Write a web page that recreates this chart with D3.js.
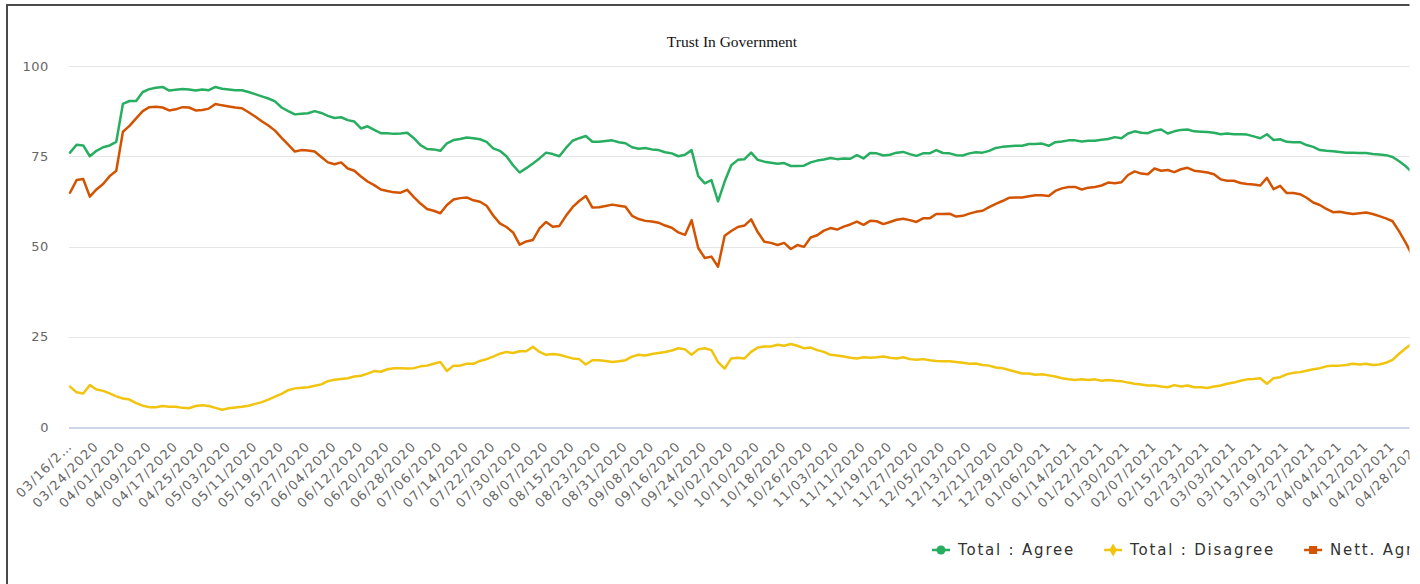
<!DOCTYPE html>
<html>
<head>
<meta charset="utf-8">
<script src="https://cdn.jsdelivr.net/npm/d3@7/dist/d3.min.js"></script>
<style>
  body { margin: 0; background: #fff; }
  .chart svg { display: block; }
  .grid line { stroke: #e6e6e6; stroke-width: 1; }
  .axis-x line.base { stroke: #ccd6eb; stroke-width: 2; }
  .label { font-family: "DejaVu Sans", sans-serif; fill: #666; }
  .line { fill: none; stroke-width: 2.5; stroke-linejoin: round; stroke-linecap: round; }
</style>
</head>
<body>
<div class="chart"></div>
<script>
(function() {
  // daily tracking, one value every 2 days from 03/16/2020
  var startDate = new Date(Date.UTC(2020, 2, 16));
  var stepDays = 2;
  var lastTickDay = 408;

  var seriesNames = ["Total : Agree", "Total : Disagree", "Nett. Agree"];
  var seriesColors = ["#27ae60", "#f1c40f", "#d35400"];

  var agree = [
    76, 78.2, 78, 75, 76.5, 77.5, 78, 79,
    89.5, 90.3, 90.3, 92.8, 93.6, 94, 94.2, 93.2,
    93.4, 93.6, 93.5, 93.2, 93.5, 93.3, 94.2, 93.7,
    93.5, 93.3, 93.3, 92.8, 92.2, 91.6, 91, 90.2,
    88.5, 87.5, 86.6, 86.8, 86.9, 87.5, 87, 86.2,
    85.6, 85.8, 85, 84.6, 82.7, 83.3, 82.3, 81.4,
    81.4, 81.2, 81.3, 81.5, 80, 78.1, 77, 76.9,
    76.5, 78.6, 79.5, 79.8, 80.2, 80, 79.7, 79,
    77.2, 76.5, 75, 72.5, 70.5, 71.7, 73, 74.4,
    76, 75.6, 75, 77.3, 79.3, 80, 80.6, 79,
    79, 79.2, 79.4, 78.9, 78.6, 77.5, 77.1, 77.3,
    76.9, 76.7, 76.1, 75.8, 75, 75.4, 76.7, 69.5,
    67.5, 68.4, 62.5, 68, 72.5, 74, 74.2, 76,
    74, 73.5, 73.2, 72.9, 73.1, 72.3, 72.3, 72.4,
    73.3, 73.8, 74.1, 74.5, 74.2, 74.4, 74.3, 75.3,
    74.4, 75.9, 75.8, 75.2, 75.4, 76, 76.2, 75.6,
    75.1, 75.8, 75.8, 76.7, 75.9, 75.8, 75.3, 75.2,
    75.8, 76.1, 76, 76.5, 77.3, 77.6, 77.8, 77.9,
    77.9, 78.4, 78.4, 78.5, 77.9, 78.9, 79.1, 79.4,
    79.4, 79.1, 79.3, 79.3, 79.6, 79.8, 80.3, 80,
    81.3, 81.9, 81.5, 81.4, 82.1, 82.4, 81.3, 81.9,
    82.3, 82.4, 81.9, 81.8, 81.7, 81.5, 81.1, 81.3,
    81.1, 81.1, 81, 80.5, 80, 81.1, 79.5, 79.7,
    79, 78.9, 78.9, 78.1, 77.6, 76.7, 76.5, 76.4,
    76.2, 76, 76, 75.9, 75.9, 75.6, 75.5, 75.3,
    74.8, 73.6, 72.2, 70.5
  ];

  var disagree = [
    11.2, 9.6, 9.3, 11.6, 10.4, 10, 9.3, 8.5,
    7.9, 7.6, 6.6, 5.9, 5.5, 5.5, 5.8, 5.6,
    5.6, 5.3, 5.2, 5.8, 6, 5.8, 5.3, 4.8,
    5.2, 5.4, 5.6, 5.9, 6.4, 6.9, 7.6, 8.4,
    9.2, 10.2, 10.7, 10.9, 11, 11.4, 11.8, 12.7,
    13.1, 13.3, 13.5, 14, 14.2, 14.8, 15.5, 15.3,
    16, 16.3, 16.3, 16.2, 16.3, 16.8, 17, 17.5,
    18, 15.5, 17, 17, 17.5, 17.5, 18.3, 18.8,
    19.5, 20.3, 20.8, 20.5, 21, 21, 22.2, 20.8,
    20, 20.2, 20, 19.5, 19, 18.8, 17.3, 18.5,
    18.5, 18.3, 18, 18.2, 18.5, 19.5, 20, 19.8,
    20.2, 20.5, 20.8, 21.2, 21.8, 21.5, 20, 21.5,
    21.8, 21.3, 18, 16.2, 19, 19.2, 19, 20.8,
    22, 22.3, 22.3, 22.8, 22.5, 23, 22.5, 21.8,
    22, 21.3, 20.8, 20, 19.8, 19.5, 19.2, 19,
    19.3, 19.2, 19.3, 19.5, 19.2, 19, 19.3, 18.8,
    18.6, 18.8, 18.5, 18.3, 18.2, 18.2, 18, 17.8,
    17.5, 17.6, 17.2, 17, 16.5, 16.3, 15.8, 15.3,
    14.8, 14.8, 14.5, 14.6, 14.3, 14, 13.5, 13.2,
    13, 13.2, 13, 13.2, 12.8, 13, 12.8, 12.7,
    12.3, 12, 11.8, 11.5, 11.5, 11.2, 11, 11.6,
    11.2, 11.5, 11, 11, 10.8, 11.2, 11.5, 12,
    12.3, 12.8, 13.2, 13.3, 13.5, 12, 13.5, 13.8,
    14.6, 15, 15.2, 15.6, 16, 16.3, 16.8, 17,
    17, 17.2, 17.5, 17.3, 17.5, 17.2, 17.3, 17.8,
    18.6, 20.3, 21.8, 23.2
  ];

  var nettAgree = [
    64.9, 68.4, 68.7, 63.8, 65.8, 67.3, 69.5, 71,
    81.8, 83.4, 85.5, 87.5, 88.6, 88.7, 88.5, 87.7,
    88, 88.6, 88.5, 87.7, 87.8, 88.2, 89.5, 89.1,
    88.8, 88.5, 88.3, 87.2, 86, 84.7, 83.5, 82.1,
    80.1, 78.2, 76.3, 76.7, 76.6, 76.3, 74.8, 73.3,
    72.8, 73.3, 71.6, 71, 69.4, 68, 67, 65.8,
    65.4, 65, 64.9, 65.7, 63.7, 61.9, 60.4, 59.9,
    59.2, 61.5, 63, 63.4, 63.6, 62.8, 62.4, 61.3,
    58.6, 56.4, 55.4, 53.9, 50.5, 51.4, 51.8, 55,
    56.8, 55.5, 55.7, 58.5, 60.9, 62.6, 64, 60.8,
    60.9, 61.2, 61.6, 61.3, 61, 58.5, 57.6, 57.1,
    56.9, 56.6, 55.8, 55.2, 53.9, 53.2, 57.3, 49.6,
    46.8, 47.2, 44.4, 53, 54.3, 55.4, 55.8, 57.5,
    54, 51.3, 51, 50.4, 51, 49.3, 50.4, 49.9,
    52.5, 53.1, 54.4, 55.1, 54.7, 55.5, 56.1, 56.9,
    56, 57.1, 57, 56.2, 56.8, 57.4, 57.7, 57.3,
    56.8, 57.8, 57.8, 59, 59, 59.1, 58.3, 58.5,
    59.1, 59.6, 59.9, 60.9, 61.8, 62.6, 63.5, 63.6,
    63.6, 63.9, 64.2, 64.2, 64, 65.4, 66.1, 66.5,
    66.5, 65.8, 66.3, 66.5, 66.9, 67.7, 67.5, 67.8,
    69.8, 70.8, 70.2, 70, 71.6, 71, 71.2, 70.6,
    71.4, 71.8, 71, 70.8, 70.5, 70, 68.6, 68.2,
    68.2, 67.6, 67.3, 67.2, 66.9, 69, 65.9, 66.8,
    64.8, 64.8, 64.5, 63.5, 62.2, 61.5, 60.4, 59.5,
    59.6, 59.3, 59, 59.2, 59.4, 59, 58.4, 57.8,
    57, 54.2, 51, 47.5
  ];

  var yTicks = [0, 25, 50, 75, 100];
  var tickEveryDays = 8;

  var width = 1420,
    height = 584,
    plot = { left: 70, right: 1419, top: 66, bottom: 427 },
    cropX = 1409.5;

  var fmt = d3.utcFormat("%m/%d/%Y");
  var dates = agree.map(function(d, i) { return d3.utcDay.offset(startDate, i * stepDays); });
  var tickDates = d3.range(0, lastTickDay + 1, tickEveryDays).map(function(k) { return d3.utcDay.offset(startDate, k); });

  var x = d3.scaleUtc()
    .domain([startDate, d3.utcDay.offset(startDate, lastTickDay)])
    .range([plot.left, plot.right]);
  var y = d3.scaleLinear().domain([0, 100]).range([plot.bottom, plot.top]);

  var svg = d3.select(".chart").append("svg")
    .attr("width", width)
    .attr("height", height);

  svg.append("clipPath").attr("id", "crop")
    .append("rect").attr("x", 0).attr("y", 0).attr("width", cropX).attr("height", height);

  var g = svg.append("g").attr("clip-path", "url(#crop)");

  // frame of the chart container
  g.append("rect")
    .attr("x", 7).attr("y", 5)
    .attr("width", 1600).attr("height", 800)
    .attr("fill", "none")
    .attr("stroke", "#4a4a4a")
    .attr("stroke-width", 2);

  g.append("text")
    .attr("x", 732).attr("y", 47)
    .attr("text-anchor", "middle")
    .style("font-family", "'Liberation Serif', serif")
    .style("font-size", "15.5px")
    .attr("fill", "#111")
    .text("Trust In Government");

  // grid + y labels
  var grid = g.append("g").attr("class", "grid");
  grid.selectAll("line")
    .data(yTicks.filter(function(d) { return d > 0; }))
    .enter().append("line")
      .attr("x1", plot.left - 1).attr("x2", 1600)
      .attr("y1", function(d) { return Math.round(y(d)) + 0.5; })
      .attr("y2", function(d) { return Math.round(y(d)) + 0.5; });

  g.append("g").selectAll("text")
    .data(yTicks)
    .enter().append("text")
      .attr("class", "label")
      .attr("x", 49)
      .attr("y", function(d) { return y(d); })
      .attr("dy", "0.36em")
      .attr("text-anchor", "end")
      .style("font-size", "13px")
      .style("letter-spacing", "0.6px")
      .text(function(d) { return d; });

  // x axis
  var ax = g.append("g").attr("class", "axis-x");
  ax.append("line").attr("class", "base")
    .attr("x1", plot.left - 1).attr("x2", 1600)
    .attr("y1", y(0) + 1).attr("y2", y(0) + 1);

  ax.selectAll("text")
    .data(tickDates)
    .enter().append("text")
      .attr("class", "label")
      .style("font-size", "13px")
      .style("letter-spacing", "1.2px")
      .attr("text-anchor", "end")
      .attr("transform", function(d) { return "translate(" + (x(d) + 3) + ",447) rotate(-45)"; })
      .text(function(d, i) { var s = fmt(d); return i === 0 ? s.slice(0, 7) + "\u2026" : s; });

  // series
  var series = [
    { name: seriesNames[0], color: seriesColors[0], values: agree, symbol: d3.symbolCircle },
    { name: seriesNames[1], color: seriesColors[1], values: disagree, symbol: d3.symbolDiamond },
    { name: seriesNames[2], color: seriesColors[2], values: nettAgree, symbol: d3.symbolSquare }
  ];

  var line = d3.line()
    .x(function(d, i) { return x(dates[i]); })
    .y(function(d) { return y(d); });

  g.append("g").selectAll("path")
    .data([series[1], series[2], series[0]])
    .enter().append("path")
      .attr("class", "line")
      .attr("stroke", function(d) { return d.color; })
      .attr("d", function(d) { return line(d.values); });

  // legend
  var lg = g.append("g").attr("transform", "translate(932,550)");
  var lx = 0;
  series.forEach(function(s) {
    var item = lg.append("g").attr("transform", "translate(" + lx + ",0)");
    item.append("line")
      .attr("x1", 0).attr("x2", 18)
      .attr("stroke", s.color).attr("stroke-width", 2.5);
    item.append("path")
      .attr("transform", "translate(9,0)")
      .attr("fill", s.color)
      .attr("d", d3.symbol().type(s.symbol).size(s.symbol === d3.symbolDiamond ? 50 : 64)());
    var t = item.append("text")
      .attr("x", 26).attr("dy", "0.36em")
      .style("font-family", "'DejaVu Sans', sans-serif")
      .style("font-size", "15px")
      .style("letter-spacing", "1.8px")
      .attr("fill", "#333")
      .text(s.name);
    lx += 26 + t.node().getComputedTextLength() + 29;
  });
})();
</script>
</body>
</html>
